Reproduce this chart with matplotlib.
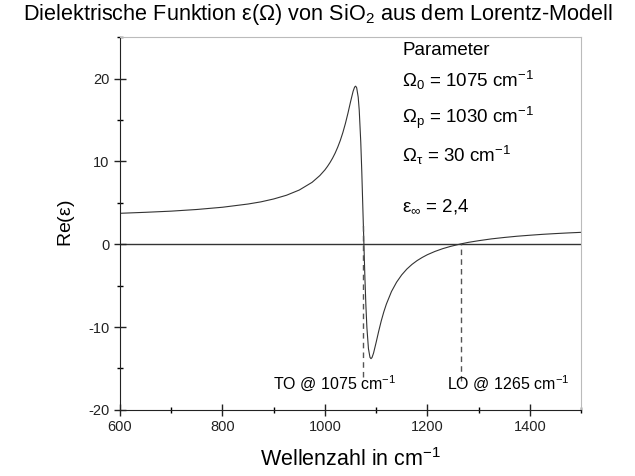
import matplotlib.pyplot as plt
from matplotlib.ticker import MultipleLocator

plt.rcParams['font.family'] = ['Liberation Sans', 'DejaVu Sans']
plt.rcParams['mathtext.fontset'] = 'custom'
plt.rcParams['mathtext.rm'] = 'Liberation Sans'
plt.rcParams['mathtext.it'] = 'Liberation Sans'
plt.rcParams['axes.unicode_minus'] = False

# Re(eps) of SiO2, Lorentz oscillator
wavenumber = [600, 650, 700, 750, 800, 850, 875, 900, 925, 950, 975, 990,
              1000, 1005, 1010, 1015, 1020, 1025, 1030, 1035, 1040, 1045,
              1050, 1055, 1058, 1060, 1062, 1065, 1067, 1070, 1072, 1075,
              1078, 1080, 1082, 1085, 1088, 1090, 1092, 1095, 1100, 1105,
              1110, 1115, 1120, 1130, 1140, 1150, 1160, 1170, 1180, 1190,
              1200, 1215, 1230, 1245, 1265, 1280, 1300, 1325, 1350, 1375,
              1400, 1425, 1450, 1475, 1500]
re_eps = [3.73, 3.85, 3.99, 4.19, 4.46, 4.85, 5.11, 5.46, 5.91, 6.54, 7.47, 8.28,
          8.97, 9.39, 9.86, 10.39, 11.0, 11.71, 12.52, 13.47, 14.57, 15.82,
          17.18, 18.45, 18.97, 19.08, 18.89, 17.75, 16.19, 12.33, 8.75, 2.4,
          -3.90, -7.40, -10.10, -12.62, -13.67, -13.82, -13.68, -13.14, -11.86, -10.51,
          -9.26, -8.17, -7.23, -5.71, -4.58, -3.70, -3.00, -2.44, -1.98, -1.60,
          -1.27, -0.87, -0.54, -0.27, 0.03, 0.22, 0.42, 0.64, 0.81, 0.96,
          1.08, 1.19, 1.28, 1.36, 1.43]

to_pos, lo_pos = 1075, 1265
to_span = (-16.0, 2.5)
lo_span = (-16.5, 0.0)

params = [r'$\Omega_0$ = 1075 cm$^{-1}$',
          r'$\Omega_p$ = 1030 cm$^{-1}$',
          r'$\Omega_\tau$ = 30 cm$^{-1}$']

fig = plt.figure(figsize=(6.35, 4.76), dpi=100)
ax = fig.add_axes([0.189, 0.139, 0.726, 0.783])

ax.axhline(0, color='#333333', lw=1.0, zorder=1)
ax.plot(wavenumber, re_eps, color='#333333', lw=0.8, zorder=2)
ax.vlines([to_pos], *to_span, colors='#555555', linestyles=(0, (4, 3)), lw=1.0)
ax.vlines([lo_pos], *lo_span, colors='#555555', linestyles=(0, (4, 3)), lw=1.0)

ax.set_xlim(600, 1500)
ax.set_ylim(-20, 25)
ax.xaxis.set_major_locator(MultipleLocator(200))
ax.xaxis.set_minor_locator(MultipleLocator(100))
ax.yaxis.set_major_locator(MultipleLocator(10))
ax.yaxis.set_minor_locator(MultipleLocator(5))
ax.tick_params(which='major', direction='inout', length=8, width=1, labelsize=10.5,
               colors='#222222', top=False, right=False)
ax.tick_params(which='minor', direction='inout', length=5, width=1,
               top=False, right=False)
for s in ('left', 'bottom'):
    ax.spines[s].set_color('#222222')
for s in ('top', 'right'):
    ax.spines[s].set_color('#bbbbbb')
    ax.spines[s].set_linewidth(0.8)

ax.set_xlabel('Wellenzahl in cm$^{-1}$', fontsize=15.5, labelpad=10)
ax.set_ylabel(r'Re($\varepsilon$)', fontsize=14, labelpad=8)
fig.text(0.5, 0.958, r'Dielektrische Funktion $\varepsilon(\Omega)$ von SiO$_2$ aus dem Lorentz-Modell',
         ha='center', fontsize=15.6)

tx = 1151
ax.text(tx, 24.4, 'Parameter', fontsize=13.5, va='top')
for i, p in enumerate(params):
    ax.text(tx, 19.8 - i * 4.55, p, fontsize=13.5, va='center')
ax.text(tx, 4.5, r'$\varepsilon_\infty$ = 2,4', fontsize=13.5, va='center')

ax.text(899, -18, 'TO @ 1075 cm$^{-1}$', fontsize=11.5, va='bottom')
ax.text(1239, -18, 'LO @ 1265 cm$^{-1}$', fontsize=11.5, va='bottom')

fig.savefig('out.png', dpi=100)
